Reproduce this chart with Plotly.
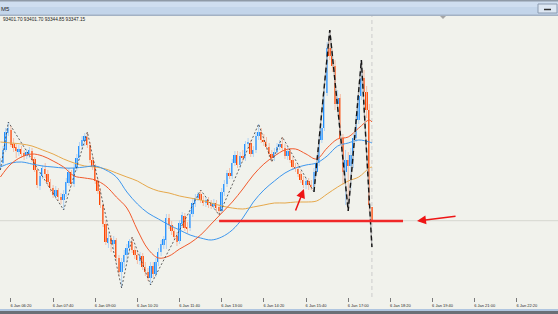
import pandas as pd
import plotly.graph_objects as go

# ---------------- data ----------------
bar_times = pd.date_range("2026-01-06 06:00", periods=142, freq="5min")

open_ = [93558, 93578, 93630, 93698, 93710, 93654, 93642, 93622, 93634, 93618,
         93606, 93610, 93626, 93594, 93550, 93486, 93526, 93554, 93534, 93502,
         93478, 93446, 93470, 93442, 93430, 93454, 93498, 93542, 93494, 93558,
         93598, 93646, 93666, 93682, 93650, 93590, 93562, 93506, 93466, 93410,
         93334, 93258, 93278, 93254, 93270, 93198, 93142, 93182, 93210, 93238,
         93262, 93230, 93210, 93186, 93206, 93162, 93142, 93118, 93166, 93134,
         93182, 93222, 93250, 93270, 93358, 93330, 93306, 93286, 93266, 93334,
         93366, 93322, 93318, 93374, 93414, 93438, 93454, 93430, 93418, 93430,
         93414, 93406, 93418, 93402, 93386, 93462, 93494, 93538, 93526, 93578,
         93610, 93570, 93606, 93598, 93654, 93658, 93614, 93630, 93686, 93702,
         93670, 93662, 93642, 93614, 93598, 93622, 93642, 93654, 93638, 93606,
         93626, 93590, 93562, 93554, 93534, 93510, 93490, 93506, 93490, 93482,
         93542, 93578, 93670, 93718, 93858, 94038, 94006, 93966, 93814, 93838,
         93678, 93542, 93590, 93566, 93610, 93678, 93750, 93846, 93918, 93862,
         93790, 93401.70]
high = [93598, 93646, 93718, 93742, 93726, 93678, 93658, 93650, 93646, 93630,
        93634, 93642, 93638, 93602, 93558, 93542, 93570, 93578, 93550, 93514,
        93490, 93486, 93478, 93458, 93470, 93518, 93558, 93550, 93574, 93614,
        93662, 93686, 93698, 93702, 93662, 93606, 93574, 93518, 93478, 93418,
        93350, 93302, 93290, 93286, 93278, 93210, 93198, 93230, 93254, 93274,
        93282, 93246, 93226, 93222, 93218, 93182, 93158, 93182, 93182, 93198,
        93238, 93270, 93286, 93374, 93374, 93346, 93318, 93302, 93350, 93382,
        93378, 93342, 93390, 93434, 93454, 93462, 93470, 93446, 93442, 93442,
        93430, 93434, 93430, 93414, 93478, 93510, 93550, 93558, 93594, 93626,
        93626, 93622, 93630, 93666, 93678, 93670, 93646, 93702, 93734, 93718,
        93694, 93682, 93658, 93630, 93638, 93658, 93670, 93682, 93654, 93642,
        93638, 93606, 93578, 93570, 93546, 93526, 93518, 93518, 93510, 93558,
        93594, 93686, 93734, 93874, 94062, 94110, 94030, 93990, 93870, 93854,
        93694, 93630, 93622, 93638, 93694, 93770, 93870, 93990, 93950, 93886,
        93814, 93401.70]
low = [93550, 93566, 93622, 93686, 93642, 93622, 93598, 93606, 93598, 93590,
       93594, 93598, 93582, 93542, 93478, 93470, 93514, 93518, 93486, 93462,
       93438, 93434, 93426, 93414, 93390, 93442, 93486, 93486, 93482, 93546,
       93590, 93630, 93646, 93638, 93578, 93550, 93494, 93454, 93398, 93322,
       93250, 93238, 93222, 93230, 93182, 93126, 93078, 93158, 93182, 93222,
       93218, 93194, 93174, 93170, 93150, 93126, 93106, 93090, 93118, 93122,
       93166, 93206, 93234, 93234, 93314, 93290, 93270, 93246, 93254, 93318,
       93306, 93298, 93306, 93362, 93402, 93426, 93418, 93406, 93402, 93398,
       93394, 93394, 93382, 93370, 93378, 93446, 93482, 93514, 93514, 93566,
       93558, 93558, 93586, 93586, 93638, 93602, 93602, 93618, 93670, 93658,
       93646, 93630, 93602, 93582, 93586, 93610, 93630, 93626, 93594, 93590,
       93578, 93550, 93542, 93522, 93498, 93478, 93474, 93470, 93470, 93462,
       93526, 93566, 93658, 93706, 93846, 93990, 93942, 93790, 93782, 93650,
       93490, 93410, 93386, 93470, 93558, 93662, 93734, 93830, 93846, 93758,
       93382, 93344.85]
close = [93578, 93630, 93702, 93718, 93650, 93638, 93626, 93634, 93614, 93606,
         93622, 93630, 93590, 93550, 93490, 93526, 93558, 93534, 93502, 93478,
         93450, 93470, 93442, 93430, 93454, 93502, 93542, 93494, 93558, 93598,
         93646, 93670, 93686, 93650, 93590, 93562, 93506, 93466, 93410, 93334,
         93262, 93278, 93254, 93270, 93198, 93142, 93182, 93210, 93238, 93266,
         93230, 93210, 93190, 93206, 93162, 93142, 93118, 93166, 93134, 93182,
         93222, 93254, 93274, 93358, 93330, 93306, 93282, 93262, 93338, 93370,
         93318, 93314, 93374, 93418, 93438, 93454, 93430, 93418, 93430, 93410,
         93406, 93418, 93398, 93386, 93462, 93494, 93538, 93526, 93578, 93610,
         93570, 93606, 93598, 93654, 93662, 93614, 93630, 93686, 93702, 93670,
         93662, 93642, 93614, 93598, 93622, 93642, 93654, 93638, 93606, 93626,
         93590, 93562, 93554, 93534, 93510, 93490, 93506, 93490, 93482, 93542,
         93578, 93670, 93718, 93858, 94038, 94006, 93966, 93814, 93838, 93678,
         93542, 93590, 93566, 93610, 93678, 93750, 93846, 93918, 93862, 93790,
         93410, 93347.15]
assert len(open_) == len(high) == len(low) == len(close) == len(bar_times)

# moving averages, sampled every 4 bars (+ last bar)
ma_bars = list(range(0, 141, 4)) + [141]
ma_fast = [93522, 93574, 93602, 93614, 93606, 93586, 93562, 93526, 93518, 93510,
           93486, 93442, 93398, 93310, 93234, 93198, 93206, 93234, 93258, 93290,
           93334, 93378, 93422, 93474, 93530, 93574, 93606, 93630, 93634, 93614,
           93594, 93638, 93674, 93682, 93718, 93750, 93742]
ma_mid = [93562, 93578, 93582, 93574, 93566, 93562, 93558, 93558, 93562, 93566,
          93550, 93522, 93462, 93414, 93378, 93354, 93330, 93310, 93290, 93278,
          93270, 93282, 93310, 93358, 93422, 93470, 93506, 93538, 93558, 93570,
          93578, 93606, 93646, 93658, 93670, 93662, 93658]
ma_slow = [93662, 93658, 93654, 93646, 93630, 93614, 93594, 93578, 93566, 93562,
           93554, 93538, 93522, 93506, 93482, 93466, 93458, 93446, 93438, 93430,
           93418, 93406, 93398, 93394, 93402, 93410, 93418, 93418, 93422, 93422,
           93426, 93454, 93482, 93506, 93522, 93558, 93562]

# zigzag swing points (bar index, price)
zz_bars = [0, 3, 24, 33, 46, 50, 57, 76, 83, 98, 103, 107, 119, 125, 132, 137, 141]
zz_price = [93550, 93742, 93390, 93702, 93078, 93282, 93090, 93470, 93370,
            93734, 93582, 93682, 93462, 94110, 93386, 93990, 93242]
zz_bold_from = 12  # position in zz lists where the bold dashed leg starts

# drawn objects
level_price = 93346
level_start = "2026-01-06 12:55"
level_end = "2026-01-06 18:44"
arrow_heads = [("2026-01-06 15:36", 93474), ("2026-01-06 19:10:30", 93346)]
arrow_tails = [("2026-01-06 15:19", 93382), ("2026-01-06 20:26:30", 93366)]

tick_times = pd.date_range("2026-01-06 06:20", periods=13, freq="80min")
tick_labels = ["6 Jan 06:20", "6 Jan 07:40", "6 Jan 09:00", "6 Jan 10:20",
               "6 Jan 11:40", "6 Jan 13:00", "6 Jan 14:20", "6 Jan 15:40",
               "6 Jan 17:00", "6 Jan 18:20", "6 Jan 19:40", "6 Jan 21:00",
               "6 Jan 22:20"]
window_title = "M5"

# ---------------- style ----------------
W, H = 558, 314
PT, PB = 16, 17
PH = H - PT - PB
BG = "#f1f2ec"
UP, DN = "#1e8fff", "#ff4500"
UP_WICK, DN_WICK = "#b0d2f3", "#f4bca4"


def py(p):  # pixel row -> paper y
    return (H - PB - p) / PH


def px(p):  # pixel column -> paper x
    return p / W


fig = go.Figure()

# wicks
fig.add_trace(go.Ohlc(
    x=bar_times, open=open_, high=high, low=low, close=close, tickwidth=0,
    increasing=dict(line=dict(color=UP_WICK, width=1)),
    decreasing=dict(line=dict(color=DN_WICK, width=1)),
    hoverinfo="skip"))

# bodies
body_len = [c - o for o, c in zip(open_, close)]
body_col = [UP if c >= o else DN for o, c in zip(open_, close)]
fig.add_trace(go.Bar(
    x=bar_times, y=body_len, base=open_, width=210000,
    marker=dict(color=body_col, line=dict(width=0)), hoverinfo="skip"))

ma_times = bar_times[ma_bars]
for vals, col in ((ma_slow, "#e6a84a"), (ma_mid, "#3d97ee"), (ma_fast, "#f25a2c")):
    fig.add_trace(go.Scatter(x=ma_times, y=vals, mode="lines",
                             line=dict(color=col, width=1, shape="spline", smoothing=1),
                             hoverinfo="skip"))

zz_times = bar_times[zz_bars]
fig.add_trace(go.Scatter(x=zz_times[:zz_bold_from + 1], y=zz_price[:zz_bold_from + 1],
                         mode="lines", line=dict(color="#3c3c3c", width=0.8, dash="2px,2px"),
                         hoverinfo="skip"))
fig.add_trace(go.Scatter(x=zz_times[zz_bold_from:], y=zz_price[zz_bold_from:],
                         mode="lines", line=dict(color="#b4b4b4", width=1.3),
                         hoverinfo="skip"))
fig.add_trace(go.Scatter(x=zz_times[zz_bold_from:], y=zz_price[zz_bold_from:],
                         mode="lines", line=dict(color="#161616", width=1.4, dash="5px,3px"),
                         hoverinfo="skip"))

shapes = [
    # bid line
    dict(type="line", xref="paper", x0=0, x1=1, yref="y", y0=close[-1], y1=close[-1],
         line=dict(color="#d6d6d0", width=1), layer="below"),
    # current bar vertical dashed line
    dict(type="line", xref="x", x0=bar_times[-1], x1=bar_times[-1], yref="paper", y0=0, y1=1,
         line=dict(color="#cccccc", width=1, dash="4px,3px"), layer="below"),
    # red horizontal level
    dict(type="line", xref="x", x0=level_start, x1=level_end, yref="y",
         y0=level_price, y1=level_price, line=dict(color="#f02828", width=2.5)),
    # title bar
    dict(type="rect", xref="paper", yref="paper", x0=0, x1=1, y0=py(16), y1=py(0),
         fillcolor="#c3d5ea", line=dict(width=0)),
    dict(type="rect", xref="paper", yref="paper", x0=0, x1=1, y0=py(7), y1=py(0),
         fillcolor="#cfdef0", line=dict(width=0)),
    dict(type="rect", xref="paper", yref="paper", x0=0, x1=1, y0=py(1.5), y1=py(0),
         fillcolor="#8f9aa7", line=dict(width=0)),
    dict(type="rect", xref="paper", yref="paper", x0=0, x1=1, y0=py(16), y1=py(14.5),
         fillcolor="#a3b2c4", line=dict(width=0)),
    # minimize button
    dict(type="rect", xref="paper", yref="paper", x0=px(538), x1=px(557), y0=py(13), y1=py(4),
         fillcolor="#dde7f3", line=dict(color="#8b9bb0", width=1)),
    dict(type="line", xref="paper", yref="paper", x0=px(544), x1=px(551), y0=py(9.5), y1=py(9.5),
         line=dict(color="#303030", width=1.5)),
    # chart shift marker
    dict(type="path", xref="paper", yref="paper",
         path=f"M {px(440)},{py(16)} L {px(446)},{py(16)} L {px(443)},{py(19)} Z",
         fillcolor="#a5a5a5", line=dict(width=0)),
    # bottom frame
    dict(type="rect", xref="paper", yref="paper", x0=0, x1=1, y0=py(311), y1=py(309),
         fillcolor="#b0c6e0", line=dict(width=0)),
    dict(type="rect", xref="paper", yref="paper", x0=0, x1=1, y0=py(316), y1=py(311),
         fillcolor="#6a6f76", line=dict(width=0)),
]

annotations = [
    dict(xref="paper", yref="paper", x=px(2), y=py(20), xanchor="left", yanchor="middle",
         text=f"{open_[-1]:.2f} {high[-1]:.2f} {low[-1]:.2f} {close[-1]:.2f}",
         showarrow=False, font=dict(size=4.7, color="#1a1a1a", family="Liberation Sans, Arial"),
         borderpad=0),
    dict(xref="paper", yref="paper", x=px(0), y=py(9), xanchor="left", yanchor="middle",
         text=window_title, showarrow=False,
         font=dict(size=6, color="#2a2a2a", family="Liberation Sans, Arial"), borderpad=0),
]
for (hx, hy), (tx, ty) in zip(arrow_heads, arrow_tails):
    annotations.append(dict(x=hx, y=hy, xref="x", yref="y", ax=tx, ay=ty, axref="x", ayref="y",
                            text="", showarrow=True, arrowhead=2, arrowsize=1.2,
                            arrowwidth=1.5, arrowcolor="#ee1515", standoff=0))

fig.update_layout(
    width=W, height=H,
    margin=dict(l=0, r=0, t=PT, b=PB, pad=0),
    paper_bgcolor=BG, plot_bgcolor=BG,
    showlegend=False, hovermode=False,
    barmode="overlay", bargap=0,
    shapes=shapes, annotations=annotations,
    xaxis=dict(type="date", range=["2026-01-06 05:59:14", "2026-01-06 23:38:06"],
               tickvals=tick_times, ticktext=tick_labels,
               ticks="outside", ticklen=4, tickwidth=1, tickcolor="#7a7a7a",
               tickfont=dict(size=4, color="#2a2a2a", family="Liberation Sans, Arial"),
               ticklabelshift=10, showgrid=False, zeroline=False, showline=False,
               rangeslider=dict(visible=False), fixedrange=True),
    yaxis=dict(visible=False, range=[93042, 94166], showgrid=False, zeroline=False,
               fixedrange=True),
)

fig.write_html("out.html")
